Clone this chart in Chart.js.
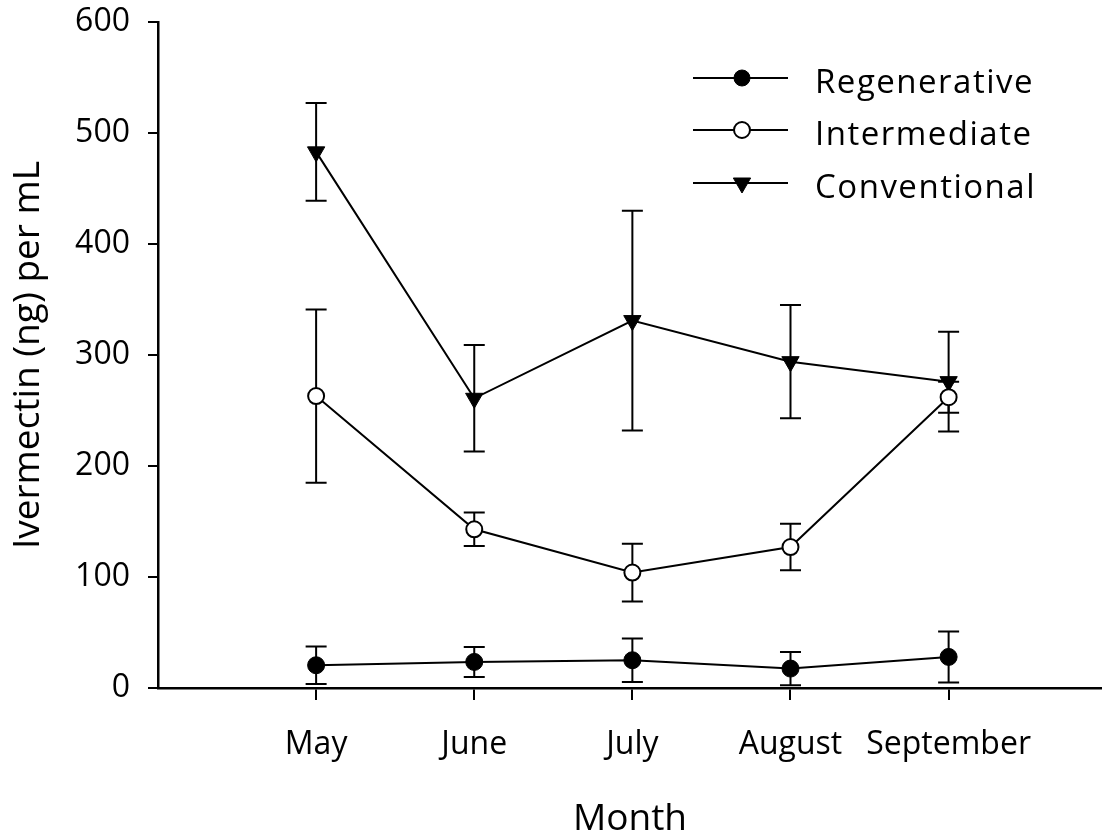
<!DOCTYPE html>
<html>
<head>
<meta charset="utf-8">
<script src="https://cdn.jsdelivr.net/npm/chart.js@4.4.1/dist/chart.umd.min.js"></script>
<style>
  html, body { margin: 0; padding: 0; background: #fff; }
  #wrap { width: 1102px; height: 835px; }
</style>
</head>
<body>
<div id="wrap"><canvas id="c" width="1102" height="835"></canvas></div>
<script>
// Sampling months and y-axis tick values
const months = ['May', 'June', 'July', 'August', 'September'];
const yTicks = [0, 100, 200, 300, 400, 500, 600];

// Mean ivermectin concentration (ng per mL) and error (±) per farm type
const regenerative    = [20.5, 23.5, 25, 17.5, 28];
const regenerativeErr = [17, 13.5, 19.5, 15, 23];
const intermediate    = [263, 143, 104, 127, 262];
const intermediateErr = [78, 15, 26, 21, 14];
const conventional    = [483, 261, 331, 294, 276];
const conventionalErr = [44, 48, 99, 51, 45];

const FONT = '"Open Sans", "Noto Sans", sans-serif';

const toPoints = vals => vals.map((v, i) => ({ x: i, y: v }));

// Vertical error bars with caps, drawn beneath the lines and markers
const errorBars = {
  id: 'errorBars',
  beforeDatasetsDraw(chart) {
    const { ctx, scales: { x, y } } = chart;
    ctx.save();
    ctx.strokeStyle = '#000';
    ctx.lineWidth = 2;
    chart.data.datasets.forEach(ds => {
      ds.data.forEach((p, i) => {
        const e = ds.errors[i];
        const px = x.getPixelForValue(p.x);
        const top = y.getPixelForValue(p.y + e);
        const bot = y.getPixelForValue(p.y - e);
        const cap = 10.5;
        ctx.beginPath();
        ctx.moveTo(px, top); ctx.lineTo(px, bot);
        ctx.moveTo(px - cap, top); ctx.lineTo(px + cap, top);
        ctx.moveTo(px - cap, bot); ctx.lineTo(px + cap, bot);
        ctx.stroke();
      });
    });
    ctx.restore();
  }
};

// Legend: line sample with marker, label to the right
const lineLegend = {
  id: 'lineLegend',
  afterDraw(chart) {
    const { ctx } = chart;
    const x0 = 693, x1 = 788, xm = 742, xt = 815;
    const rows = [78, 130, 183];
    ctx.save();
    chart.data.datasets.forEach((ds, i) => {
      const yy = rows[i];
      ctx.strokeStyle = '#000';
      ctx.lineWidth = 2;
      ctx.beginPath();
      ctx.moveTo(x0, yy); ctx.lineTo(x1, yy);
      ctx.stroke();
      ctx.beginPath();
      if (ds.pointStyle === 'triangle') {
        const r = 10;
        ctx.moveTo(xm - r * 0.866, yy - r * 0.5);
        ctx.lineTo(xm + r * 0.866, yy - r * 0.5);
        ctx.lineTo(xm, yy + r);
        ctx.closePath();
      } else {
        ctx.arc(xm, yy, 8, 0, Math.PI * 2);
      }
      ctx.fillStyle = ds.pointBackgroundColor;
      ctx.fill();
      ctx.lineWidth = ds.pointBorderWidth;
      ctx.stroke();
      ctx.fillStyle = '#000';
      ctx.font = '33px ' + FONT;
      ctx.letterSpacing = '1.5px';
      ctx.textAlign = 'left';
      ctx.textBaseline = 'alphabetic';
      ctx.fillText(ds.label, xt, yy + 15);
    });
    ctx.restore();
  }
};

new Chart(document.getElementById('c'), {
  type: 'line',
  data: {
    datasets: [
      {
        label: 'Regenerative', data: toPoints(regenerative), errors: regenerativeErr,
        borderColor: '#000', borderWidth: 2, pointStyle: 'circle', pointRadius: 8.5,
        pointBackgroundColor: '#000', pointBorderColor: '#000', pointBorderWidth: 1
      },
      {
        label: 'Intermediate', data: toPoints(intermediate), errors: intermediateErr,
        borderColor: '#000', borderWidth: 2, pointStyle: 'circle', pointRadius: 8,
        pointBackgroundColor: '#fff', pointBorderColor: '#000', pointBorderWidth: 2
      },
      {
        label: 'Conventional', data: toPoints(conventional), errors: conventionalErr,
        borderColor: '#000', borderWidth: 2, pointStyle: 'triangle', pointRotation: 180,
        pointRadius: 10, pointBackgroundColor: '#000', pointBorderColor: '#000', pointBorderWidth: 1
      }
    ]
  },
  options: {
    responsive: false,
    animation: false,
    devicePixelRatio: 1,
    layout: { autoPadding: false, padding: { top: 22, right: 0, left: 0, bottom: 0 } },
    plugins: { legend: { display: false }, tooltip: { enabled: false } },
    scales: {
      x: {
        type: 'linear', min: -1, max: 4.97,
        afterBuildTicks: s => { s.ticks = months.map((m, i) => ({ value: i })); },
        afterFit: s => { s.height = 147; s.paddingLeft = 0; s.paddingRight = 0; },
        border: { color: '#000', width: 2.5 },
        grid: { drawOnChartArea: false, drawTicks: true, tickLength: 12, color: '#000', lineWidth: 2 },
        ticks: { color: '#000', font: { family: FONT, size: 32 }, padding: 26, maxRotation: 0,
                 autoSkip: false, callback: v => months[v] },
        title: { display: true, text: 'Month', color: '#000',
                 font: { family: FONT, size: 37, lineHeight: 1 },
                 padding: { top: 0, bottom: -3 } }
      },
      y: {
        min: 0, max: 600,
        afterBuildTicks: s => { s.ticks = yTicks.map(v => ({ value: v })); },
        afterFit: s => { s.width = 158; s.paddingTop = 0; s.paddingBottom = 0; },
        border: { color: '#000', width: 2.5 },
        grid: { drawOnChartArea: false, drawTicks: true, tickLength: 10, color: '#000', lineWidth: 2 },
        ticks: { color: '#000', font: { family: FONT, size: 32 }, padding: 18 },
        title: { display: true, text: 'Ivermectin (ng) per mL', color: '#000',
                 font: { family: FONT, size: 37, lineHeight: 1 }, padding: { top: 10, bottom: 0 } }
      }
    }
  },
  plugins: [errorBars, lineLegend]
});
</script>
</body>
</html>
